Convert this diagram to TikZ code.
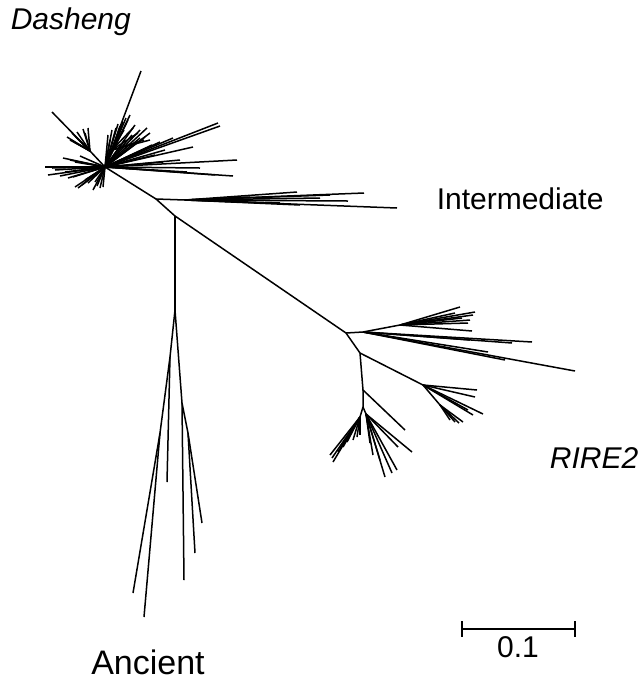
\documentclass[tikz,border=0pt]{standalone}
\usepackage{fontspec}
\setmainfont{Liberation Sans}
\begin{document}
\begin{tikzpicture}[x=0.5pt,y=-0.5pt,line width=0.75pt,
    lbl/.style={font=\fontsize{15}{18}\selectfont,inner sep=0pt}]
    \useasboundingbox (0,0) rectangle (644,682);
    % backbone of the tree
    \coordinate (hub) at (105,167);
    \coordinate (inter) at (156,199);
    \coordinate (anc) at (175,216);
    \coordinate (rire) at (346,333);
    \draw (hub) -- (inter) -- (anc) -- (rire);
    % Dasheng cluster
    \coordinate (ulf) at (90,151);
    \coordinate (urf) at (112,150);
    \draw (hub) -- (ulf) -- (52,112);
    \foreach \p in {(67,137),(70,140),(72,133),(75,136),(77,132),(80,145),(83,129),(85,133),
        (88,128),(74,142)}
        \draw (ulf) -- \p;
    \foreach \p in {(141,71),(123,122),(126,118),(130,115),(128,120),(108,135),(110,140),
        (112,130),(116,128),(118,124),(120,132),(135,125),(140,130),(147,128),(150,133),
        (140,138),(145,137),(147,148),(152,145),(160,142),(173,138),(193,147),(218,123),
        (220,126),(163,162),(237,160),(233,176),(187,172),(200,168),(155,155),(165,150),
        (132,135),(125,140),(215,175),(180,160)}
        \draw (hub) -- \p;
    \foreach \p in {(120,126),(124,130),(133,128),(138,133),(144,140),(150,140)}
        \draw (urf) -- \p;
    \foreach \p in {(45,167),(48,175),(55,170),(52,168),(63,158),(70,160),(75,162),(80,156),
        (73,177),(75,187),(78,188),(82,185),(85,180),(88,183),(93,190),(97,186),(100,188),
        (103,187),(65,172),(60,176),(68,178),(90,178),(95,182)}
        \draw (hub) -- \p;
    % Intermediate
    \coordinate (ib) at (185,200);
    \draw (inter) -- (ib);
    \foreach \p in {(250,197),(280,203),(297,192),(364,193),(348,201),(397,208),(320,198),
        (300,205),(330,195)}
        \draw (ib) -- \p;
    % Ancient
    \coordinate (afan) at (175,310);
    \coordinate (a1) at (170,357);
    \coordinate (a1b) at (160,433);
    \coordinate (a2) at (182,403);
    \coordinate (a3) at (188,433);
    \draw (anc) -- (afan);
    \draw (afan) -- (a1) -- (a1b) -- (133,593);
    \draw (a1b) -- (144,617);
    \draw (a1) -- (167,482);
    \draw (afan) -- (a2) -- (184,580);
    \draw (a2) -- (a3) -- (195,553);
    \draw (a3) -- (202,523);
    % RIRE2
    \coordinate (rtop) at (363,332);
    \coordinate (rt1) at (400,325);
    \draw (rire) -- (rtop) -- (rt1);
    \foreach \p in {(460,307),(475,312),(473,315),(470,320),(468,323),(462,318),(472,331),
        (455,313)}
        \draw (rt1) -- \p;
    \foreach \p in {(532,342),(512,343),(575,371),(488,352),(505,360),(470,340)}
        \draw (rtop) -- \p;
    \coordinate (rmid) at (360,353);
    \coordinate (rr) at (423,385);
    \coordinate (rrb) at (440,405);
    \draw (rire) -- (rmid) -- (rr);
    \foreach \p in {(477,390),(475,397),(483,414),(473,415),(468,410)}
        \draw (rr) -- \p;
    \draw (rr) -- (rrb);
    \foreach \p in {(463,422),(455,422),(459,423),(450,420)}
        \draw (rrb) -- \p;
    \coordinate (rlo) at (363,390);
    \coordinate (rlo2) at (363,407);
    \coordinate (rl) at (360,417);
    \coordinate (rrt) at (366,414);
    \draw (rmid) -- (rlo) -- (405,430);
    \draw (rlo) -- (rlo2) -- (rl);
    \draw (rlo2) -- (rrt);
    \foreach \p in {(330,455),(333,462),(332,458),(338,452),(343,447),(347,442),(353,440),
        (357,437),(360,435)}
        \draw (rl) -- \p;
    \foreach \p in {(373,455),(370,443),(385,477),(397,470),(392,473),(412,452),(398,447),(380,460)}
        \draw (rrt) -- \p;
    % labels
    \node[lbl,anchor=base west] (dash) at (10,29) {\itshape Dasheng};
    \node[lbl,anchor=base west] (intlbl) at (436,209) {Intermediate};
    \node[lbl,anchor=base east] (rirelbl) at (639,468) {\itshape RIRE2};
    \node[lbl,font=\fontsize{17}{20}\selectfont,anchor=base] (anclbl) at (148,674) {Ancient};
    % scale bar
    \coordinate (sb1) at (462,629);
    \coordinate (sb2) at (575,629);
    \draw (sb1) -- (sb2);
    \draw ([yshift=4]sb1) -- ([yshift=-4]sb1);
    \draw ([yshift=4]sb2) -- ([yshift=-4]sb2);
    \node[lbl,anchor=base] (sblbl) at (518,657) {0.1};
\end{tikzpicture}
\end{document}
